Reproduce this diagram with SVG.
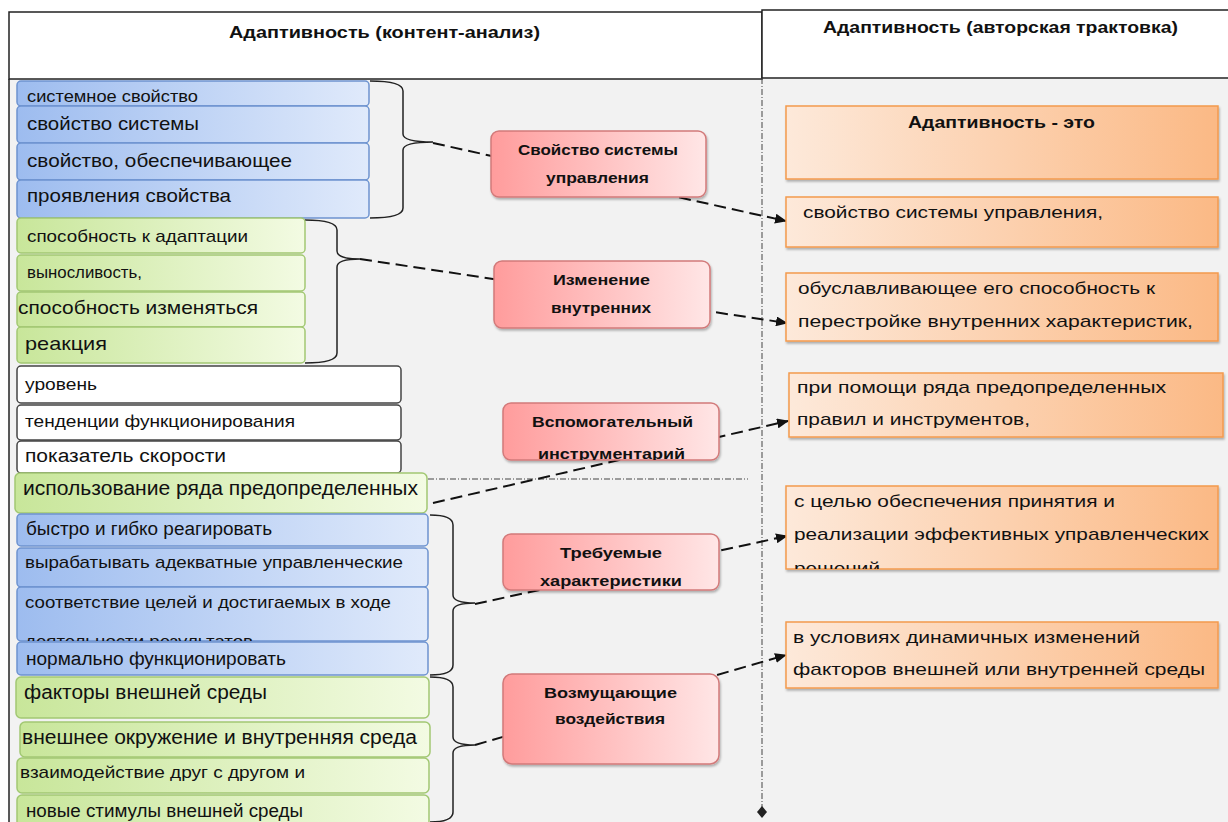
<svg xmlns="http://www.w3.org/2000/svg" width="1228" height="822" viewBox="0 0 1228 822">
<defs>
<linearGradient id="gBlue" x1="0" y1="0" x2="1" y2="0"><stop offset="0" stop-color="#9dbcef"/><stop offset="1" stop-color="#e0eafb"/></linearGradient>
<linearGradient id="gGreen" x1="0" y1="0" x2="1" y2="0"><stop offset="0" stop-color="#c8e69a"/><stop offset="1" stop-color="#f3fbe3"/></linearGradient>
<linearGradient id="gRed" x1="0" y1="0" x2="1" y2="0"><stop offset="0" stop-color="#ff9c9c"/><stop offset="1" stop-color="#ffe6e6"/></linearGradient>
<linearGradient id="gOrange" x1="0" y1="0" x2="1" y2="0"><stop offset="0" stop-color="#fde9da"/><stop offset="1" stop-color="#fbb985"/></linearGradient>
<filter id="sh" x="-5%" y="-10%" width="110%" height="130%"><feDropShadow dx="1" dy="2" stdDeviation="1" flood-color="#000" flood-opacity="0.28"/></filter>
<marker id="arr" markerUnits="userSpaceOnUse" markerWidth="12" markerHeight="10" refX="11" refY="5" orient="auto"><path d="M0,0 L12,5 L0,10 z" fill="#111"/></marker>
<clipPath id="c15"><rect x="17" y="587" width="411" height="54"/></clipPath>
<clipPath id="cO5"><rect x="786" y="486" width="432" height="83"/></clipPath>
<clipPath id="cR3"><rect x="503" y="403" width="216" height="57"/></clipPath>
</defs>
<style>
.blue{fill:url(#gBlue);stroke:#6d93d0;stroke-width:1.5}
.green{fill:url(#gGreen);stroke:#a2c873;stroke-width:1.5}
.white{fill:#fff;stroke:#444;stroke-width:1.5}
.red{fill:url(#gRed);stroke:#d27a7a;stroke-width:1.5;filter:url(#sh)}
.orange{fill:url(#gOrange);stroke:#f49a4e;stroke-width:1.5;filter:url(#sh)}
.t{font-family:"Liberation Sans",Arial,sans-serif;fill:#111}
.b{font-family:"Liberation Sans",Arial,sans-serif;font-weight:bold;fill:#111}
.brace{fill:none;stroke:#222;stroke-width:1.5}
.dash{fill:none;stroke:#111;stroke-width:2;stroke-dasharray:12,6}
.dd{fill:none;stroke:#444;stroke-width:1;stroke-dasharray:6,2,1,2}
</style>
<rect x="0" y="0" width="1228" height="822" fill="#fff"/>
<rect x="9" y="79" width="1219" height="743" fill="#f2f2f2"/>
<g id="header-left"><rect x="9" y="12" width="753" height="67" fill="#fff" stroke="#222" stroke-width="1.5"/><text class="b" x="229" y="38" font-size="16" textLength="311" lengthAdjust="spacingAndGlyphs">Адаптивность (контент-анализ)</text></g>
<g id="header-right"><rect x="762" y="10" width="470" height="68" fill="#fff" stroke="#222" stroke-width="1.5"/><text class="b" x="823" y="33" font-size="16" textLength="355" lengthAdjust="spacingAndGlyphs">Адаптивность (авторская трактовка)</text></g>
<line x1="9" y1="79" x2="9" y2="822" stroke="#222" stroke-width="1.5"/>
<g id="guides">
<line class="dd" x1="762" y1="78" x2="762" y2="808"/>
<polygon points="762,806 767,812 762,818 757,812" fill="#222"/>
<line class="dd" x1="428" y1="479" x2="748" y2="479"/>
</g>
<g id="connectors">
<path class="brace" d="M370,81 Q403,81 403,91 L403,134 Q403,142 433,142 Q403,142 403,150 L403,208 Q403,218 370,218"/>
<path class="brace" d="M305,220 Q337,220 337,230 L337,251 Q337,259 360,259 Q337,259 337,267 L337,353 Q337,363 305,363"/>
<path class="brace" d="M430,515 Q453,515 453,525 L453,595 Q453,603 475,603 Q453,603 453,611 L453,665 Q453,675 430,675"/>
<path class="brace" d="M430,677 Q453,677 453,687 L453,737 Q453,745 475,745 Q453,745 453,753 L453,812 Q453,822 430,822"/>
<line class="dash" x1="433" y1="143" x2="786" y2="221" marker-end="url(#arr)"/>
<line class="dash" x1="360" y1="259" x2="787" y2="323" marker-end="url(#arr)"/>
<line class="dash" x1="433" y1="503" x2="788" y2="421" marker-end="url(#arr)"/>
<line class="dash" x1="475" y1="604" x2="787" y2="536" marker-end="url(#arr)"/>
<line class="dash" x1="475" y1="745" x2="786" y2="655" marker-end="url(#arr)"/>
</g>
<g id="n1"><rect class="blue" x="17" y="81" width="352" height="25" rx="4"/><text class="t" x="27" y="102" font-size="17" textLength="171" lengthAdjust="spacingAndGlyphs">системное свойство</text></g>
<g id="n2"><rect class="blue" x="17" y="106" width="352" height="37" rx="4"/><text class="t" x="27" y="130" font-size="19" textLength="172" lengthAdjust="spacingAndGlyphs">свойство системы</text></g>
<g id="n3"><rect class="blue" x="17" y="143" width="352" height="37" rx="4"/><text class="t" x="27" y="167" font-size="19" textLength="265" lengthAdjust="spacingAndGlyphs">свойство, обеспечивающее</text></g>
<g id="n4"><rect class="blue" x="17" y="180" width="352" height="38" rx="4"/><text class="t" x="27" y="202" font-size="19" textLength="204" lengthAdjust="spacingAndGlyphs">проявления свойства</text></g>
<g id="n5"><rect class="green" x="17" y="218" width="288" height="35" rx="4"/><text class="t" x="27" y="242" font-size="17" textLength="221" lengthAdjust="spacingAndGlyphs">способность к адаптации</text></g>
<g id="n6"><rect class="green" x="17" y="255" width="288" height="36" rx="4"/><text class="t" x="27" y="278" font-size="16" textLength="115" lengthAdjust="spacingAndGlyphs">выносливость,</text></g>
<g id="n7"><rect class="green" x="17" y="292" width="288" height="35" rx="4"/><text class="t" x="18" y="314" font-size="19" textLength="240" lengthAdjust="spacingAndGlyphs">способность изменяться</text></g>
<g id="n8"><rect class="green" x="17" y="327" width="288" height="36" rx="4"/><text class="t" x="25" y="350" font-size="19" textLength="82" lengthAdjust="spacingAndGlyphs">реакция</text></g>
<g id="n9"><rect class="white" x="17" y="366" width="384" height="37" rx="4"/><text class="t" x="25" y="390" font-size="17" textLength="72" lengthAdjust="spacingAndGlyphs">уровень</text></g>
<g id="n10"><rect class="white" x="17" y="405" width="384" height="35" rx="4"/><text class="t" x="25" y="427" font-size="17" textLength="270" lengthAdjust="spacingAndGlyphs">тенденции функционирования</text></g>
<g id="n11"><rect class="white" x="17" y="441" width="384" height="32" rx="4"/><text class="t" x="25" y="462" font-size="18" textLength="201" lengthAdjust="spacingAndGlyphs">показатель скорости</text></g>
<g id="n12"><rect class="green" x="15" y="473" width="412" height="40" rx="5"/><text class="t" x="23" y="495" font-size="20" textLength="395" lengthAdjust="spacingAndGlyphs">использование ряда предопределенных</text></g>
<g id="n13"><rect class="blue" x="17" y="514" width="411" height="32" rx="4"/><text class="t" x="26" y="535" font-size="18" textLength="246" lengthAdjust="spacingAndGlyphs">быстро и гибко реагировать</text></g>
<g id="n14"><rect class="blue" x="17" y="548" width="411" height="39" rx="4"/><text class="t" x="25" y="568" font-size="17" textLength="378" lengthAdjust="spacingAndGlyphs">вырабатывать адекватные управленческие</text></g>
<g id="n15"><rect class="blue" x="17" y="587" width="411" height="54" rx="4"/><g clip-path="url(#c15)"><text class="t" x="25" y="608" font-size="17" textLength="366" lengthAdjust="spacingAndGlyphs">соответствие целей и достигаемых в ходе</text><text class="t" x="25" y="647" font-size="17" textLength="228" lengthAdjust="spacingAndGlyphs">деятельности результатов</text></g></g>
<g id="n16"><rect class="blue" x="17" y="642" width="411" height="33" rx="4"/><text class="t" x="26" y="665" font-size="18" textLength="260" lengthAdjust="spacingAndGlyphs">нормально функционировать</text></g>
<g id="n17"><rect class="green" x="16" y="677" width="413" height="41" rx="5"/><text class="t" x="24" y="699" font-size="20" textLength="243" lengthAdjust="spacingAndGlyphs">факторы внешней среды</text></g>
<g id="n18"><rect class="green" x="20" y="722" width="410" height="35" rx="5"/><text class="t" x="22" y="744" font-size="20" textLength="395" lengthAdjust="spacingAndGlyphs">внешнее окружение и внутренняя среда</text></g>
<g id="n19"><rect class="green" x="17" y="758" width="412" height="35" rx="5"/><text class="t" x="20" y="778" font-size="17" textLength="285" lengthAdjust="spacingAndGlyphs">взаимодействие друг с другом и</text></g>
<g id="n20"><rect class="green" x="17" y="795" width="412" height="35" rx="5"/><text class="t" x="26" y="817" font-size="18" textLength="277" lengthAdjust="spacingAndGlyphs">новые стимулы внешней среды</text></g>
<g id="r1"><rect class="red" x="491" y="131" width="215" height="66" rx="8"/><text class="b" x="518" y="155" font-size="15" textLength="160" lengthAdjust="spacingAndGlyphs">Свойство системы</text><text class="b" x="546" y="183" font-size="15" textLength="103" lengthAdjust="spacingAndGlyphs">управления</text></g>
<g id="r2"><rect class="red" x="494" y="261" width="216" height="67" rx="8"/><text class="b" x="553" y="285" font-size="15" textLength="97" lengthAdjust="spacingAndGlyphs">Изменение</text><text class="b" x="551" y="313" font-size="15" textLength="100" lengthAdjust="spacingAndGlyphs">внутренних</text></g>
<g id="r3"><rect class="red" x="503" y="403" width="216" height="57" rx="8"/><g clip-path="url(#cR3)"><text class="b" x="532" y="427" font-size="15" textLength="161" lengthAdjust="spacingAndGlyphs">Вспомогательный</text><text class="b" x="538" y="459" font-size="15" textLength="147" lengthAdjust="spacingAndGlyphs">инструментарий</text></g></g>
<g id="r4"><rect class="red" x="503" y="534" width="216" height="56" rx="8"/><text class="b" x="560" y="558" font-size="15" textLength="102" lengthAdjust="spacingAndGlyphs">Требуемые</text><text class="b" x="540" y="586" font-size="15" textLength="142" lengthAdjust="spacingAndGlyphs">характеристики</text></g>
<g id="r5"><rect class="red" x="503" y="674" width="216" height="90" rx="9"/><text class="b" x="544" y="698" font-size="15" textLength="133" lengthAdjust="spacingAndGlyphs">Возмущающие</text><text class="b" x="555" y="724" font-size="15" textLength="110" lengthAdjust="spacingAndGlyphs">воздействия</text></g>
<g id="o1"><rect class="orange" x="786" y="106" width="432" height="73"/><text class="b" x="908" y="128" font-size="16" textLength="187" lengthAdjust="spacingAndGlyphs">Адаптивность - это</text></g>
<g id="o2"><rect class="orange" x="786" y="197" width="432" height="50"/><text class="t" x="803" y="218" font-size="17" textLength="300" lengthAdjust="spacingAndGlyphs">свойство системы управления,</text></g>
<g id="o3"><rect class="orange" x="786" y="273" width="432" height="68"/><text class="t" x="798" y="294" font-size="17" textLength="357" lengthAdjust="spacingAndGlyphs">обуславливающее его способность к</text><text class="t" x="798" y="327" font-size="17" textLength="395" lengthAdjust="spacingAndGlyphs">перестройке  внутренних характеристик,</text></g>
<g id="o4"><rect class="orange" x="789" y="373" width="434" height="64"/><text class="t" x="797" y="393" font-size="17" textLength="369" lengthAdjust="spacingAndGlyphs">при помощи ряда предопределенных</text><text class="t" x="797" y="425" font-size="17" textLength="233" lengthAdjust="spacingAndGlyphs">правил и инструментов,</text></g>
<g id="o5"><rect class="orange" x="786" y="486" width="432" height="83"/><g clip-path="url(#cO5)"><text class="t" x="794" y="507" font-size="17" textLength="321" lengthAdjust="spacingAndGlyphs">с целью обеспечения принятия и</text><text class="t" x="794" y="540" font-size="17" textLength="415" lengthAdjust="spacingAndGlyphs">реализации  эффективных управленческих</text><text class="t" x="794" y="574" font-size="17" textLength="86" lengthAdjust="spacingAndGlyphs">решений</text></g></g>
<g id="o6"><rect class="orange" x="786" y="622" width="432" height="66"/><text class="t" x="793" y="643" font-size="17" textLength="347" lengthAdjust="spacingAndGlyphs">в условиях динамичных изменений</text><text class="t" x="793" y="675" font-size="17" textLength="412" lengthAdjust="spacingAndGlyphs">факторов внешней или внутренней среды</text></g>
</svg>
